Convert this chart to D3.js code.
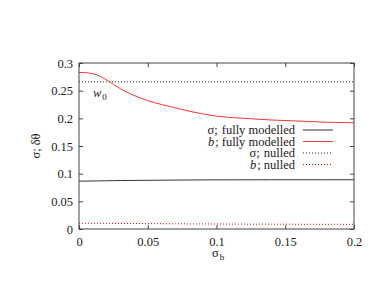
<!DOCTYPE html>
<html><head><meta charset="utf-8">
<script src="https://cdn.jsdelivr.net/npm/d3@7"></script>
<style>body{margin:0;background:#fff}</style>
</head><body><svg id="c" width="385" height="298" font-family="Liberation Serif, Times New Roman, serif"></svg>
<script>
const sigmaB = [0,0.005,0.01,0.015,0.02,0.025,0.03,0.04,0.05,0.06,0.07,0.08,0.09,0.1,0.12,0.14,0.16,0.18,0.2];
const bFull = [0.283,0.2825,0.2805,0.2765,0.2695,0.2615,0.2535,0.2415,0.232,0.225,0.219,0.213,0.208,0.204,0.200,0.197,0.195,0.193,0.192];
const sigmaFull = [0.0865,0.0866,0.0868,0.087,0.0872,0.0874,0.0876,0.0878,0.088,0.0882,0.0884,0.0886,0.0887,0.0888,0.0889,0.089,0.089,0.089,0.089];
const sigmaNulled = [0.266,0.266,0.266,0.266,0.266,0.266,0.266,0.266,0.266,0.266,0.266,0.266,0.266,0.266,0.266,0.266,0.266,0.266,0.266];
const bNulled = [0.0105,0.0105,0.0104,0.0104,0.0103,0.0102,0.0101,0.0099,0.0097,0.0095,0.0094,0.0092,0.0091,0.009,0.0088,0.0087,0.0086,0.0085,0.0085];
const xTicks = [0,0.05,0.1,0.15,0.2];
const yTicks = [0,0.05,0.1,0.15,0.2,0.25,0.3];
const legendLabels = [["σ;","fully modelled"],["b","; fully modelled"],["σ;","nulled"],["b","; nulled"]];

const FONT = "Liberation Serif, Times New Roman, serif";
const svg = d3.select("#c");
const L=79,R=354,T=63,B=229;
const x = d3.scaleLinear().domain([0,0.2]).range([L,R]);
const y = d3.scaleLinear().domain([0,0.3]).range([B,T]);
const fmt = d => d===0?"0":String(d);

const ax = svg.append("g");
ax.append("g").attr("transform",`translate(0,${B})`).call(d3.axisBottom(x).tickValues(xTicks).tickFormat(fmt).tickSizeInner(-4).tickSizeOuter(0).tickPadding(8));
ax.append("g").attr("transform",`translate(0,${T})`).call(d3.axisTop(x).tickValues(xTicks).tickFormat("").tickSizeInner(-4).tickSizeOuter(0));
ax.append("g").attr("transform",`translate(${L},0)`).call(d3.axisLeft(y).tickValues(yTicks).tickFormat(fmt).tickSizeInner(-4).tickSizeOuter(0).tickPadding(6));
ax.append("g").attr("transform",`translate(${R},0)`).call(d3.axisRight(y).tickValues(yTicks).tickFormat("").tickSizeInner(-4).tickSizeOuter(0));
ax.selectAll("g").attr("font-family",FONT).attr("font-size",12.5);
ax.selectAll(".domain").remove();
ax.selectAll("line").attr("stroke","#444");
ax.selectAll("text").attr("font-family",FONT).attr("fill","#222");

const line = arr => d3.line().x((d,i)=>x(sigmaB[i])).y(d=>y(d)).curve(d3.curveMonotoneX)(arr);
svg.append("path").attr("d",line(sigmaNulled)).attr("fill","none").attr("stroke","#222").attr("stroke-width",1).attr("stroke-dasharray","1,2");
svg.append("path").attr("d",line(bNulled)).attr("fill","none").attr("stroke","#ff0000").attr("stroke-width",1).attr("stroke-dasharray","1,2");
svg.append("path").attr("d",line(sigmaFull)).attr("fill","none").attr("stroke","#333").attr("stroke-width",1);
svg.append("path").attr("d",line(bFull)).attr("fill","none").attr("stroke","#ff3333").attr("stroke-width",1);

svg.append("rect").attr("x",L).attr("y",T).attr("width",R-L).attr("height",B-T).attr("fill","none").attr("stroke","#444").attr("stroke-width",1);

function txt(xp,yp,s,opt={}){
  return svg.append("text").attr("x",xp).attr("y",yp).attr("text-anchor",opt.anchor||"start")
    .attr("font-family",FONT).attr("font-size",opt.size||12.5).attr("font-style",opt.italic?"italic":"normal")
    .attr("fill","#222").text(s);
}
// w0 label
const wt = txt(93,97,"w",{italic:true});
txt(93+wt.node().getComputedTextLength()+1,100,"0",{size:9});

// legend
const styles=[{c:"#333",d:null},{c:"#ff3333",d:null},{c:"#222",d:"1,2"},{c:"#ff0000",d:"1,2"}];
const ly=[130,141.5,153,164.5];
legendLabels.forEach((lab,i)=>{
  const rest = txt(295,ly[i]+4,lab[1],{anchor:"end"});
  const rw = rest.node().getComputedTextLength();
  const gap = lab[0]==="b" ? 1 : 4;
  txt(295-rw-gap,ly[i]+4,lab[0],{anchor:"end",italic:lab[0]==="b"});
  const ln = svg.append("line").attr("x1",303).attr("x2",333).attr("y1",ly[i]).attr("y2",ly[i]).attr("stroke",styles[i].c).attr("stroke-width",1);
  if(styles[i].d) ln.attr("stroke-dasharray",styles[i].d);
});

// axis labels
svg.append("text").attr("transform","translate(40,146) rotate(-90)").attr("text-anchor","middle")
  .attr("font-family",FONT).attr("font-size",12.5).attr("fill","#222").text("σ; δθ");
const s1 = txt(212,257,"σ");
txt(212+s1.node().getComputedTextLength()+1,260,"b",{size:9});
</script></body></html>
